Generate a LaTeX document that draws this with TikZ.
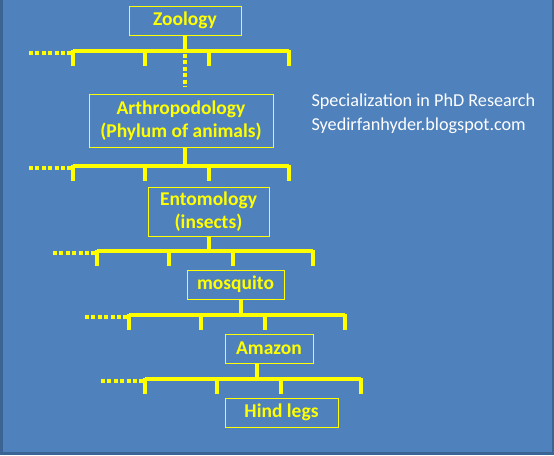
\documentclass[tikz,border=0pt]{standalone}
\usepackage{fontspec}
\setmainfont{Carlito}
\usepackage{tikz}
\usetikzlibrary{positioning,calc}
\definecolor{slidebg}{HTML}{4F81BD}
\definecolor{slideedge}{HTML}{3B6394}
\definecolor{treeyellow}{HTML}{FFFF00}
\tikzstyle{field} = [draw=treeyellow, line width=1pt, text=treeyellow, align=center, inner sep=0pt, font=\bfseries\fontsize{19.5}{23}\selectfont]
\tikzstyle{bar} = [treeyellow, line width=3.5pt]
\tikzstyle{dots} = [treeyellow, line width=4pt, dash pattern=on 4pt off 2.4pt]

\begin{document}
\begin{tikzpicture}[x=1pt,y=-1pt]
\fill[slideedge] (0,0) rectangle (554,455);
\fill[slidebg] (3,0) rectangle (552,452);
\useasboundingbox (0,0) rectangle (554,455);

% subject boxes
\node[field, minimum width=112pt, minimum height=29pt] (zoology) at (185,20.5) {Zoology};
\node[field, minimum width=184pt, minimum height=53pt] (arthro) at (181,120.5) {Arthropodology\\(Phylum of animals)};
\node[field, minimum width=121pt, minimum height=49pt] (ento) at (208.5,211.5) {Entomology\\(insects)};
\node[field, minimum width=97pt, minimum height=29pt] (mosquito) at (235.5,284.5) {mosquito};
\node[field, minimum width=88pt, minimum height=29pt] (amazon) at (269,348.5) {Amazon};
\node[field, minimum width=113pt, minimum height=29pt] (legs) at (281.5,412.5) {Hind legs};

\node[white, anchor=west, align=left, font=\fontsize{18.2}{24}\selectfont] (note) at (308,114) {Specialization in PhD Research\\Syedirfanhyder.blogspot.com};

% branch bars: left end x / y / name of the box above
\foreach \x/\y/\up/\n in {73/51/zoology/1,73/166/arthro/2,97/251/ento/3,129/315/mosquito/4,145/379/amazon/5}{
  \coordinate (b\n) at (\x,\y);
  \coordinate (s\n) at (\x+112,\y);
  \draw[bar] (b\n) -- ++(216,0);
  \foreach \t in {0,72,136,216}{
    \draw[bar, line cap=butt] ($(b\n)+(\t,-1.5)$) -- ++(0,16);
  }
  \draw[bar] (s\n) -- (s\n |- \up.south);
  \draw[dots] ($(b\n)+(-44,1.5)$) -- ($(b\n)+(-1,1.5)$);
}
\coordinate (gap) at (185,87);
\draw[dots] (s1) ++(0,3) -- (gap);
\end{tikzpicture}
\end{document}
